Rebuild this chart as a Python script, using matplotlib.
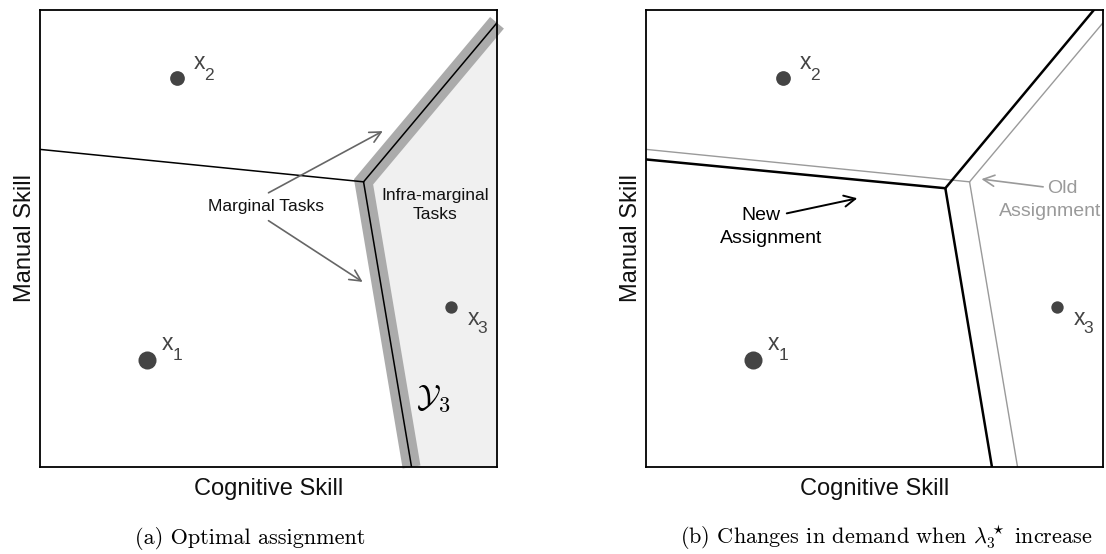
import matplotlib
matplotlib.use('Agg')
import matplotlib.pyplot as plt

plt.rcParams['font.family'] = ['Liberation Sans', 'DejaVu Sans']
plt.rcParams['mathtext.fontset'] = 'cm'

# ---------------- data ----------------
worker_ids = ['1', '2', '3']
worker_x = [0.235, 0.300, 0.900]      # cognitive skill
worker_y = [0.234, 0.851, 0.350]      # manual skill
worker_size = [13.0, 10.6, 8.9]       # relative weight of each worker type

# optimal assignment boundaries (old): left edge, junction, top-right edge, bottom edge
old_left = [0.0, 0.695]
old_junction = [0.708, 0.624]
old_top = [1.0, 0.972]
old_bottom = [0.813, 0.0]

# new assignment boundaries after lambda_3 increases
new_left = [0.0, 0.673]
new_junction = [0.655, 0.610]
new_top = [0.980, 1.0]
new_bottom = [0.757, 0.0]

# ---------------- layout ----------------
W, H = 1106, 554
fig = plt.figure(figsize=(W / 100, H / 100), dpi=100)
box = 457
axA = fig.add_axes([40 / W, (H - 467) / H, box / W, box / H])
axB = fig.add_axes([646 / W, (H - 467) / H, box / W, box / H])

dot_color = '#444444'
label_offsets = {  # pixel offsets of "x" and subscript relative to the dot
    '1': ((20, 17), (30, 5)),
    '2': ((22, 16), (32, 3)),
    '3': ((22, -11), (31, -21)),
}


def base(ax):
    ax.set_xlim(0, 1)
    ax.set_ylim(0, 1)
    ax.set_xticks([])
    ax.set_yticks([])
    for s in ax.spines.values():
        s.set_linewidth(1.3)
        s.set_color('black')
        s.set_zorder(5)
    for wid, x, y, ms in zip(worker_ids, worker_x, worker_y, worker_size):
        ax.plot(x, y, 'o', ms=ms, color=dot_color, mec='none', zorder=6)
        (xo, sub) = label_offsets[wid]
        ax.annotate('x', (x, y), xytext=xo, textcoords='offset pixels',
                    ha='center', va='center', fontsize=16.5, color=dot_color)
        ax.annotate(wid, (x, y), xytext=sub, textcoords='offset pixels',
                    ha='center', va='center', fontsize=12.5, color=dot_color)
    # axis labels
    bb = ax.get_position()
    fig.text((bb.x0 + bb.x1) / 2, 1 - 495 / H, 'Cognitive Skill', ha='center',
             va='baseline', fontsize=17, color='#111111')
    fig.text(bb.x0 - 9 / W, (bb.y0 + bb.y1) / 2, 'Manual Skill', rotation=90,
             rotation_mode='anchor', ha='center', va='baseline', fontsize=17,
             color='#111111')


# ---------------- panel (a) ----------------
base(axA)
# infra-marginal region of worker 3
axA.fill([old_junction[0], old_top[0], 1.0, old_bottom[0]],
         [old_junction[1], old_top[1], 0.0, old_bottom[1]],
         color='#f0f0f0', lw=0, zorder=1)
# marginal tasks band
axA.plot([old_top[0], old_junction[0], old_bottom[0]],
         [old_top[1], old_junction[1], old_bottom[1]],
         color='#ababab', lw=13, solid_joinstyle='miter',
         solid_capstyle='butt', clip_on=False, zorder=2)
axA.plot([old_left[0], old_junction[0]], [old_left[1], old_junction[1]],
         color='black', lw=1.1, zorder=3)
axA.plot([old_top[0], old_junction[0], old_bottom[0]],
         [old_top[1], old_junction[1], old_bottom[1]],
         color='black', lw=1.1, zorder=3, solid_joinstyle='miter')

axA.text(0.494, 0.570, 'Marginal Tasks', ha='center', va='center',
         fontsize=12.5, color='#111111', zorder=7)
axA.text(0.864, 0.573, 'Infra-marginal\nTasks', ha='center', va='center',
         fontsize=12.5, color='#111111', linespacing=1.3, zorder=7)
arrow_grey = dict(arrowstyle='->', color='#666666', lw=1.2,
                  mutation_scale=20, shrinkA=0, shrinkB=0)
axA.annotate('', xy=(0.750, 0.735), xytext=(0.500, 0.600),
             arrowprops=arrow_grey, zorder=7)
axA.annotate('', xy=(0.706, 0.405), xytext=(0.500, 0.539),
             arrowprops=arrow_grey, zorder=7)
axA.text(0.860, 0.150, r'$\mathcal{Y}_{\mathbf{3}}$', ha='center',
         va='center', fontsize=23, color='black', zorder=7)

# ---------------- panel (b) ----------------
base(axB)
old_kw = dict(color='#9a9a9a', lw=1.0, zorder=3)
axB.plot([old_left[0], old_junction[0]], [old_left[1], old_junction[1]], **old_kw)
axB.plot([old_top[0], old_junction[0], old_bottom[0]],
         [old_top[1], old_junction[1], old_bottom[1]], **old_kw)
new_kw = dict(color='black', lw=1.8, zorder=4)
axB.plot([new_left[0], new_junction[0]], [new_left[1], new_junction[1]], **new_kw)
axB.plot([new_top[0], new_junction[0], new_bottom[0]],
         [new_top[1], new_junction[1], new_bottom[1]], **new_kw)

axB.text(0.251, 0.550, 'New', ha='center', va='center', fontsize=14,
         color='black', zorder=7)
axB.text(0.2735, 0.499, 'Assignment', ha='center', va='center', fontsize=14,
         color='black', zorder=7)
axB.annotate('', xy=(0.4625, 0.588), xytext=(0.308, 0.555),
             arrowprops=dict(arrowstyle='->', color='black', lw=1.4,
                             mutation_scale=20, shrinkA=0, shrinkB=0))
t1 = axB.text(0.912, 0.610, 'Old', ha='center', va='center', fontsize=14,
              color='#9a9a9a', zorder=7)
t2 = axB.text(0.885, 0.559, 'Assignment', ha='center', va='center',
              fontsize=14, color='#9a9a9a', zorder=7)
t2.set_clip_path(axB.patch)
axB.annotate('', xy=(0.734, 0.630), xytext=(0.869, 0.613),
             arrowprops=dict(arrowstyle='->', color='#9a9a9a', lw=1.2,
                             mutation_scale=20, shrinkA=0, shrinkB=0))

# ---------------- captions ----------------
fig.text(250 / W, 1 - 544 / H, '(a) Optimal assignment', ha='center',
         va='baseline', fontsize=16, family='cmr10', color='black')
fig.text(680 / W, 1 - 544 / H,
         r'(b) Changes in demand when $\lambda_3^\star$ increase', ha='left',
         va='baseline', fontsize=16, family='cmr10', color='black')

fig.savefig('out.png', dpi=100)
